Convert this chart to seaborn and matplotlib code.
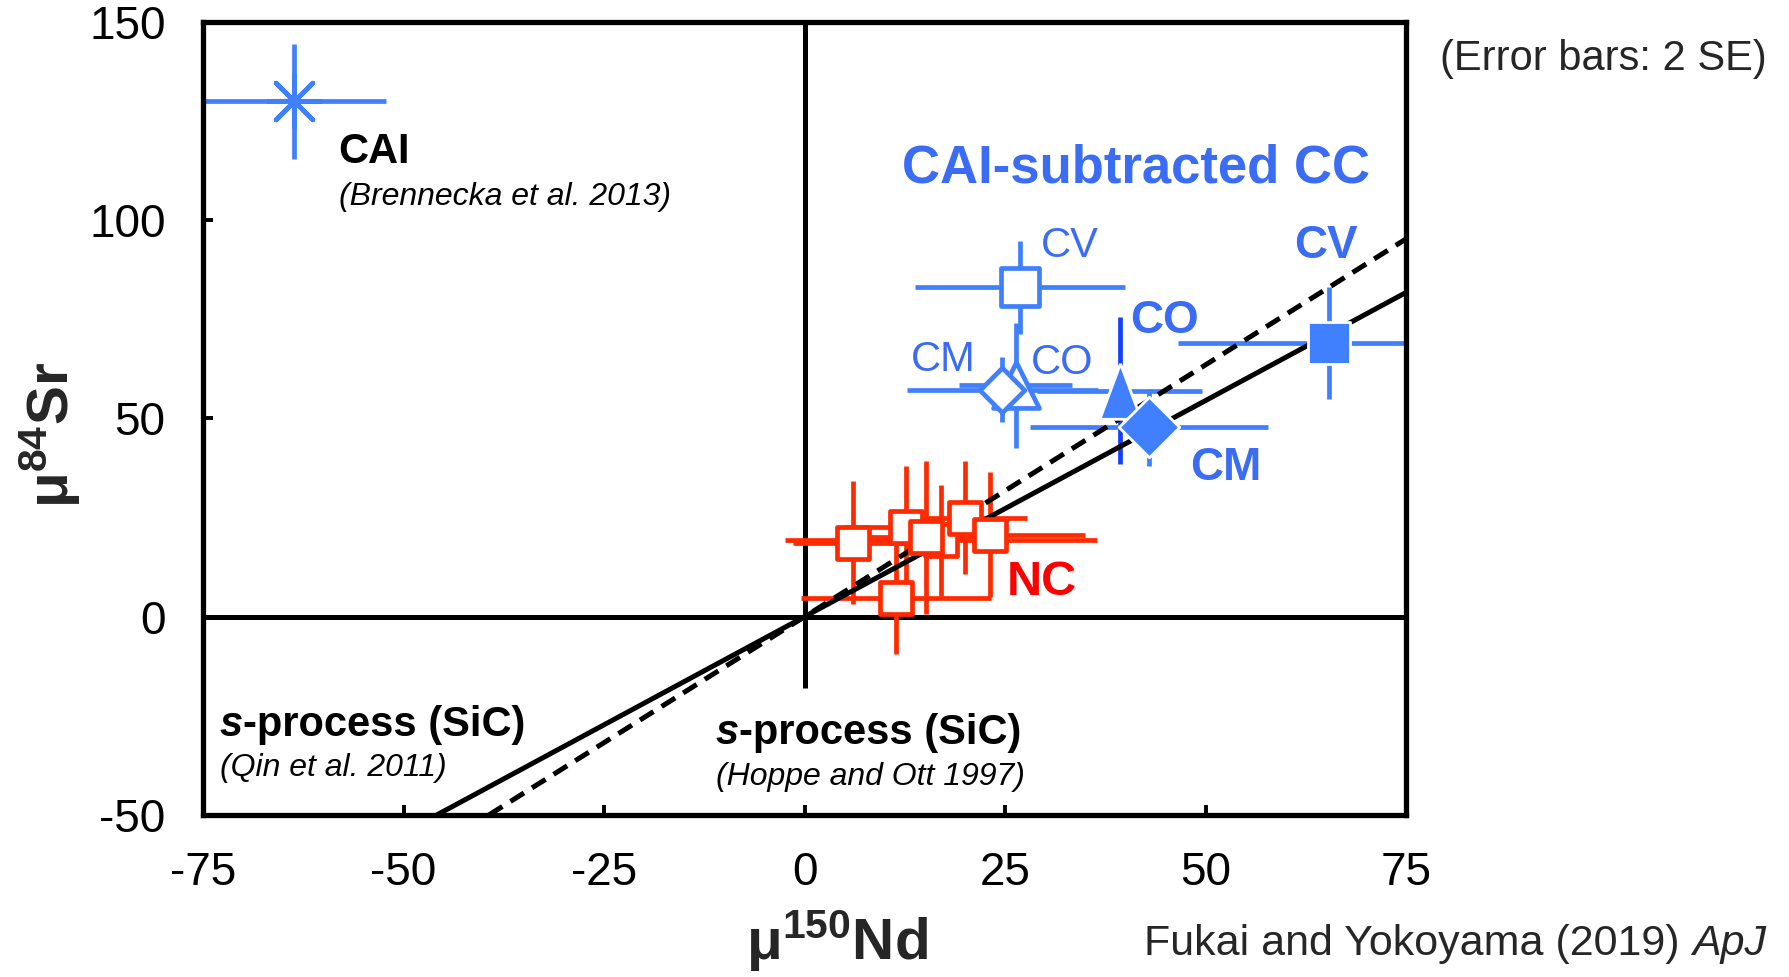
import matplotlib
matplotlib.use("Agg")
import matplotlib.pyplot as plt
import seaborn as sns

# ---- data ---------------------------------------------------------------
x_ticks = [-75, -50, -25, 0, 25, 50, 75]
y_ticks = [-50, 0, 50, 100, 150]

# CAI (Brennecka et al. 2013)
cai_x = [-63.7]
cai_y = [129.9]
cai_xerr = [11.5]
cai_yerr = [14.5]

# non-carbonaceous chondrites (NC)
nc_x = [17.0, 6.0, 12.6, 15.1, 20.0, 23.1, 11.4]
nc_y = [19.3, 18.7, 22.5, 20.0, 25.0, 20.7, 4.8]
nc_xerr = [19.4, 7.5, 7.7, 9.0, 7.7, 11.9, 11.8]
nc_yerr = [14.0, 15.5, 15.5, 19.3, 14.3, 15.8, 14.3]

# bulk carbonaceous chondrites (open symbols)
cc_groups = ["CV", "CO", "CM"]
cc_x = [26.9, 26.3, 24.65]
cc_y = [83.0, 58.3, 57.2]
cc_xerr = [13.1, 7.0, 11.9]
cc_yerr = [11.8, 15.7, 8.2]

# CAI-subtracted carbonaceous chondrites (filled symbols)
sub_x = [65.4, 39.3, 42.9]
sub_y = [69.1, 57.0, 47.7]
sub_xerr = [18.9, 10.3, 14.85]
sub_yerr = [14.1, 18.5, 9.7]

# s-process mixing-line slopes (mu84Sr / mu150Nd)
slope_qin = 1.09
slope_hoppe = 1.27

# ---- style ----------------------------------------------------------------
sns.set_theme(style="white")
plt.rcParams["font.family"] = ["Liberation Sans", "DejaVu Sans"]
plt.rcParams["mathtext.fontset"] = "custom"
plt.rcParams["mathtext.rm"] = "Liberation Sans"
plt.rcParams["mathtext.it"] = "Liberation Sans:italic"
plt.rcParams["mathtext.bf"] = "Liberation Sans:bold"

BLUE = "#4080ff"
BLUE_TXT = "#3a6cf4"
DARK_BLUE = "#1240ff"
RED = "#ff2a00"
RED_TXT = "#ff0000"
LW = 3.4

fig = plt.figure(figsize=(17.89, 9.77), dpi=100)
ax = fig.add_axes([0.1135, 0.1658, 0.6725, 0.812])
ax.set_xlim(-75, 75)
ax.set_ylim(-50, 150)
ax.set_xticks(x_ticks)
ax.set_yticks(y_ticks)
ax.set_xticklabels([str(v) for v in x_ticks])
ax.set_yticklabels([str(v) for v in y_ticks])
ax.tick_params(axis="both", direction="in", length=7, width=2.8,
               labelsize=33, colors="black", bottom=True, left=True)
ax.tick_params(axis="x", pad=26)
ax.tick_params(axis="y", pad=27)
for sp in ax.spines.values():
    sp.set_linewidth(3.8)
    sp.set_color("black")
    sp.set_visible(True)
ax.set_facecolor("white")

# reference axes through the origin
ax.axhline(0, color="black", lw=3.6, zorder=1)
ax.vlines(0, -18, 150, color="black", lw=3.6, zorder=1)

# s-process mixing lines
ax.axline((0, 0), slope=slope_qin, color="black", lw=3.6, zorder=3)
ax.axline((0, 0), slope=slope_hoppe, color="black", lw=3.6,
          linestyle=(0, (3.2, 1.9)), zorder=3)

# ---- CAI ------------------------------------------------------------------
ax.errorbar(cai_x, cai_y, xerr=cai_xerr, yerr=cai_yerr, fmt="none",
            ecolor=BLUE, elinewidth=LW, capsize=0, zorder=2)
sns.scatterplot(x=cai_x, y=cai_y, marker=(8, 2, 0), s=1400, color=BLUE,
                linewidth=LW, ax=ax, legend=False, zorder=4)

# ---- NC ---------------------------------------------------------------------
for i in range(len(nc_x)):
    ax.errorbar([nc_x[i]], [nc_y[i]], xerr=[nc_xerr[i]], yerr=[nc_yerr[i]],
                fmt="none", ecolor=RED, elinewidth=LW, capsize=0, zorder=2)
for i in range(len(nc_x)):
    sns.scatterplot(x=[nc_x[i]], y=[nc_y[i]], marker="s", s=560,
                    facecolor="white", edgecolor=RED, linewidth=LW,
                    ax=ax, legend=False, zorder=5 + 0.01 * i)

# ---- bulk CC (open) ---------------------------------------------------------
open_marker = {"CV": "s", "CO": "^", "CM": "D"}
open_size = {"CV": 760, "CO": 1090, "CM": 520}
open_order = ["CV", "CO", "CM"]
for g in open_order:
    i = cc_groups.index(g)
    ax.errorbar([cc_x[i]], [cc_y[i]], xerr=[cc_xerr[i]], yerr=[cc_yerr[i]],
                fmt="none", ecolor=BLUE, elinewidth=LW, capsize=0, zorder=2)
for k, g in enumerate(open_order):
    i = cc_groups.index(g)
    sns.scatterplot(x=[cc_x[i]], y=[cc_y[i]], marker=open_marker[g],
                    s=open_size[g], facecolor="white", edgecolor=BLUE,
                    linewidth=LW, ax=ax, legend=False, zorder=6 + 0.01 * k)

# ---- CAI-subtracted CC (filled) --------------------------------------------
tall_triangle = [(0, 1.35), (-1, -1.35), (1, -1.35), (0, 1.35)]
sub_marker = {"CV": "s", "CO": tall_triangle, "CM": "D"}
sub_size = {"CV": 880, "CO": 1600, "CM": 950}
sub_order = ["CO", "CM", "CV"]
for g in sub_order:
    i = cc_groups.index(g)
    ax.errorbar([sub_x[i]], [sub_y[i]], xerr=[sub_xerr[i]], fmt="none",
                ecolor=BLUE, elinewidth=LW, capsize=0, zorder=2)
    ax.errorbar([sub_x[i]], [sub_y[i]], yerr=[sub_yerr[i]], fmt="none",
                ecolor=DARK_BLUE if g == "CO" else BLUE, elinewidth=LW,
                capsize=0, zorder=2)
for k, g in enumerate(sub_order):
    i = cc_groups.index(g)
    sns.scatterplot(x=[sub_x[i]], y=[sub_y[i]], marker=sub_marker[g],
                    s=sub_size[g], color=BLUE, edgecolor="white",
                    linewidth=2.0, ax=ax, legend=False, zorder=7 + 0.01 * k)

# ---- annotations inside the axes -------------------------------------------
ax.text(-58.2, 117.1, "CAI", fontsize=30, fontweight="bold", color="black",
        ha="left", va="center", zorder=8)
ax.text(-58.1, 105.8, "(Brennecka et al. 2013)", fontsize=23,
        fontstyle="italic", color="black", ha="left", va="center", zorder=8)
ax.text(12.1, 112.9, "CAI-subtracted CC", fontsize=38, fontweight="bold",
        color=BLUE_TXT, ha="left", va="center", zorder=8)

ax.text(29.5, 93.5, "CV", fontsize=30, color=BLUE_TXT, ha="left", va="center", zorder=8)
ax.text(13.2, 64.7, "CM", fontsize=30, color=BLUE_TXT, ha="left", va="center", zorder=8)
ax.text(28.2, 63.9, "CO", fontsize=30, color=BLUE_TXT, ha="left", va="center", zorder=8)
ax.text(40.6, 74.6, "CO", fontsize=33, fontweight="bold", color=BLUE_TXT,
        ha="left", va="center", zorder=8)
ax.text(61.0, 93.5, "CV", fontsize=33, fontweight="bold", color=BLUE_TXT,
        ha="left", va="center", zorder=8)
ax.text(48.1, 37.5, "CM", fontsize=33, fontweight="bold", color=BLUE_TXT,
        ha="left", va="center", zorder=8)
ax.text(25.2, 8.6, "NC", fontsize=35, fontweight="bold", color=RED_TXT,
        ha="left", va="center", zorder=8)


def s_process_label(x, y, ref_y, ref):
    s_txt = ax.text(x, y, "s", fontsize=30, fontweight="bold",
                    fontstyle="italic", color="black", ha="left",
                    va="center", zorder=8)
    ax.annotate("-process (SiC)", xy=(1, 0), xycoords=s_txt, fontsize=30,
                fontweight="bold", color="black", ha="left", va="bottom",
                zorder=8)
    ax.text(x, ref_y, ref, fontsize=23, fontstyle="italic", color="black",
            ha="left", va="center", zorder=8)


s_process_label(-72.9, -27.3, -38.1, "(Qin et al. 2011)")
s_process_label(-11.1, -29.4, -40.4, "(Hoppe and Ott 1997)")

# ---- axis labels and notes outside the axes ----------------------------------
fig.text(0.468, 0.037, "μ$^{\\mathbf{150}}$Nd", fontsize=42,
         fontweight="bold", ha="center", va="center")
fig.text(0.028, 0.555, "μ$^{\\mathbf{84}}$Sr", fontsize=42,
         fontweight="bold", ha="center", va="center", rotation=90)
fig.text(0.805, 0.9396, "(Error bars: 2 SE)", fontsize=30,
         ha="left", va="center")
apj = fig.text(0.987, 0.0342, "ApJ", fontsize=31, fontstyle="italic",
               ha="right", va="center")
ax.annotate("Fukai and Yokoyama (2019) ", xy=(0, 0), xycoords=apj,
            fontsize=31, ha="right", va="bottom", annotation_clip=False)

fig.savefig("out.png", dpi=100, facecolor="white")
